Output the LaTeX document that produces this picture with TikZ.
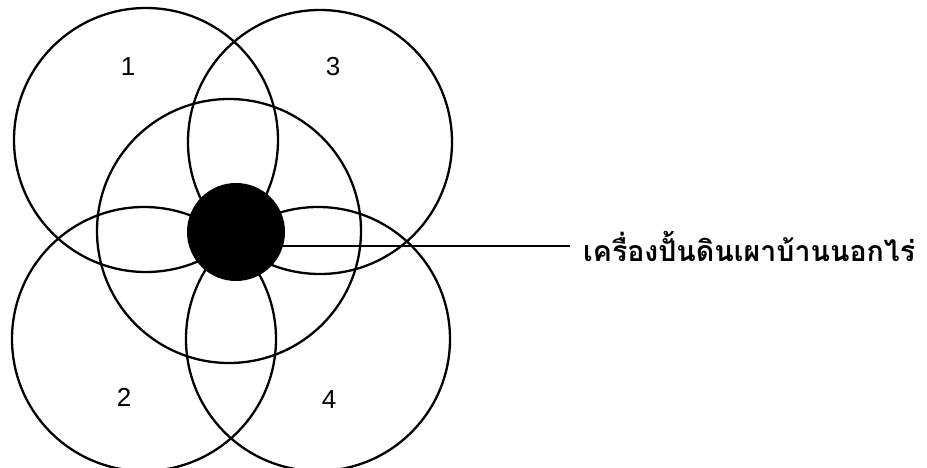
\documentclass[tikz,border=0pt]{standalone}
\usepackage{fontspec}
\setmainfont{Liberation Sans}
\newfontfamily\thaifont[Script=Thai]{Loma}
\tikzset{
  ring/.style={circle, draw, line width=2.3pt, minimum size=264pt, inner sep=0pt},
  digit/.style={font=\fontsize{26}{26}\selectfont},
}

\begin{document}
\begin{tikzpicture}[x=1pt, y=-1pt]
  \useasboundingbox (0,0) rectangle (927,468);
  % the five rings
  \node[ring] (r1) at (146,140) {};
  \node[ring] (r3) at (320,142) {};
  \node[ring] (r2) at (144,339) {};
  \node[ring] (r4) at (318,339) {};
  \node[ring] (r0) at (229,231) {};
  % centre
  \node[circle, fill=black, minimum size=98pt, inner sep=0pt] (core) at (236,232) {};
  \node[digit] (n1) at (128,67) {1};
  \node[digit] (n3) at (333,67) {3};
  \node[digit] (n2) at (124,397) {2};
  \node[digit] (n4) at (329,400) {4};
  \node[anchor=west, inner sep=0pt, font=\thaifont\bfseries\fontsize{28.5}{28.5}\selectfont] (label) at (583,246) {เครื่องปั้นดินเผาบ้านนอกไร่};
  \draw[line width=2.3pt] (core.center |- label.west) -- ([xshift=-13pt]label.west);
\end{tikzpicture}
\end{document}
